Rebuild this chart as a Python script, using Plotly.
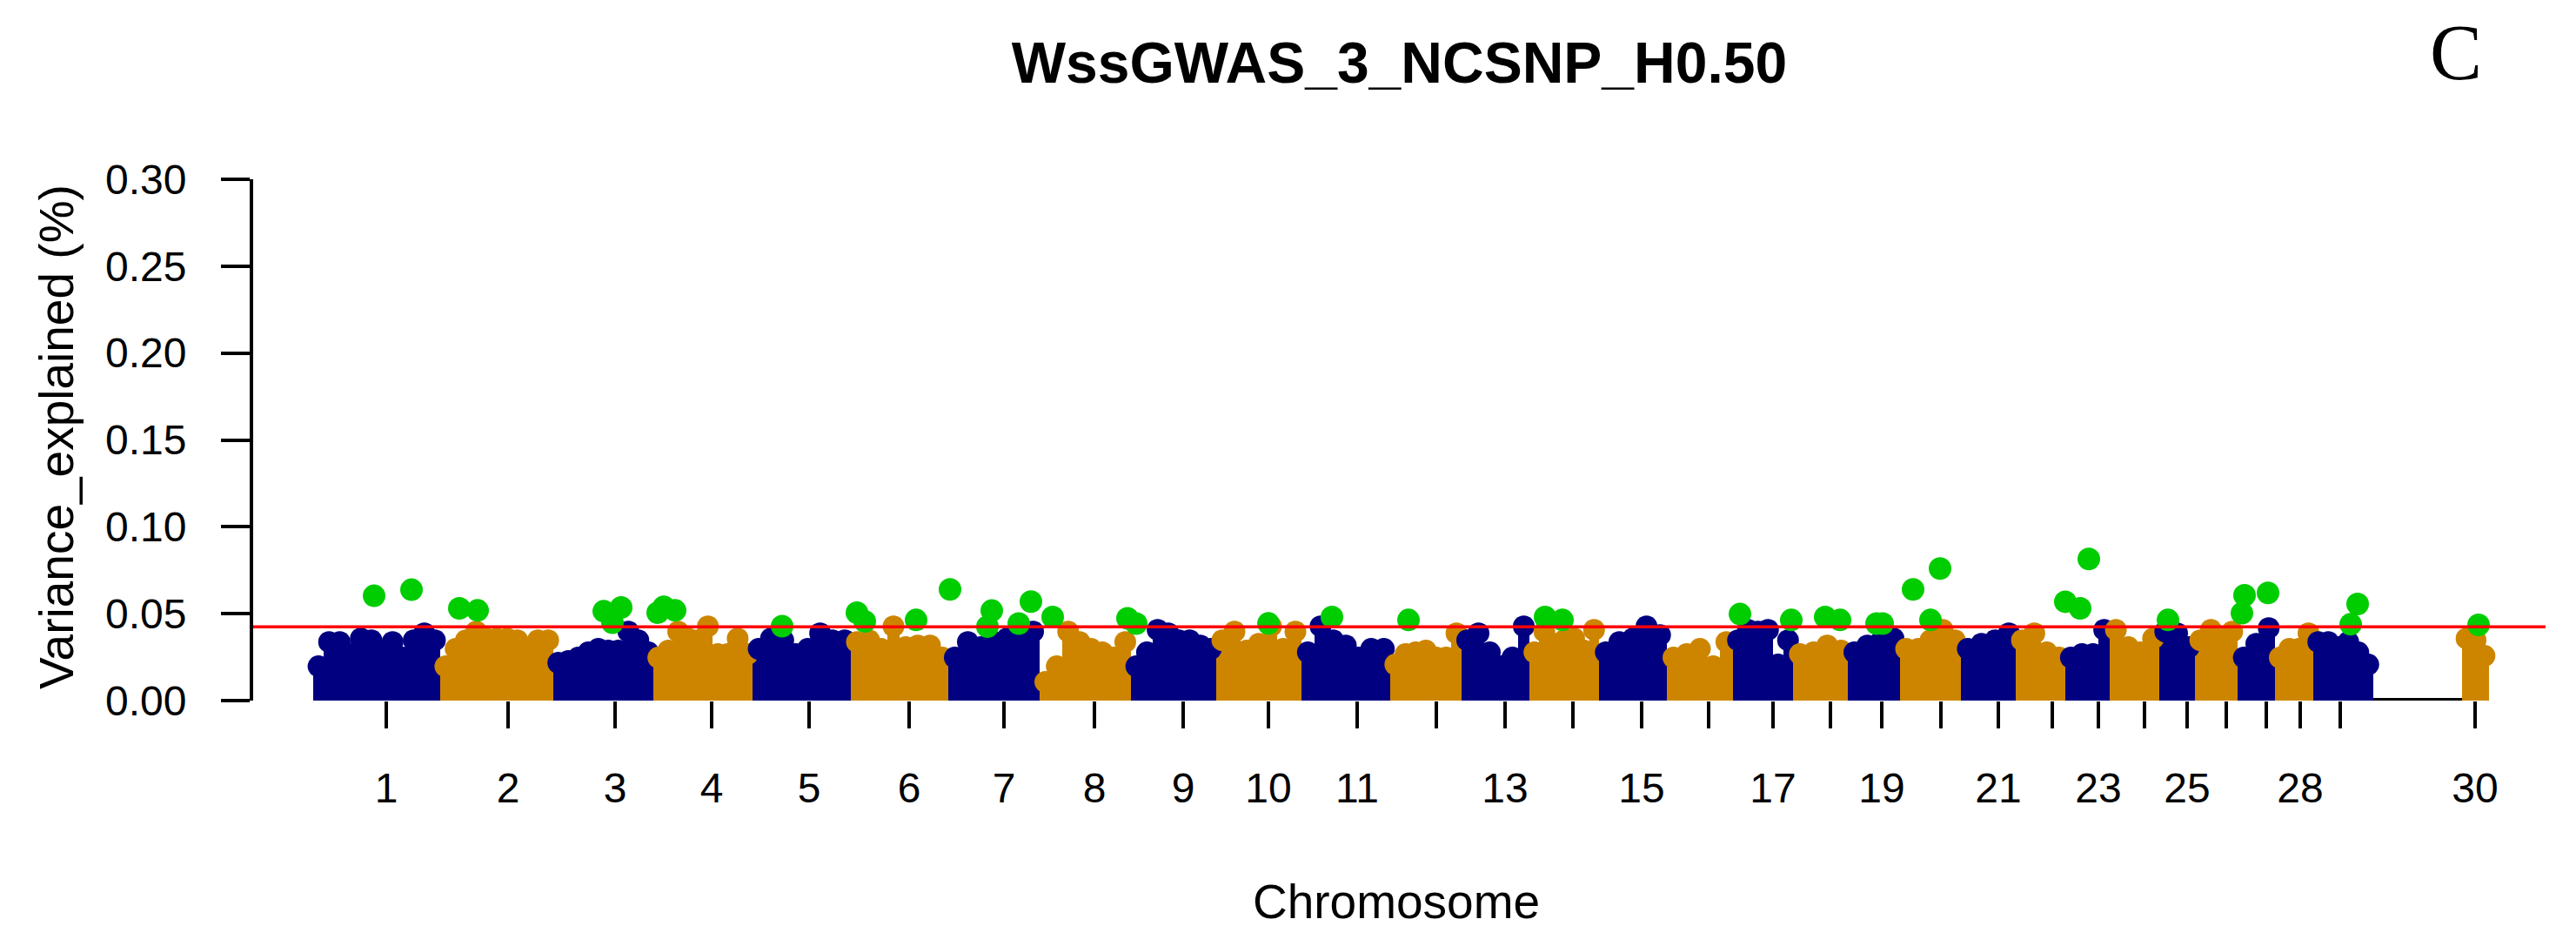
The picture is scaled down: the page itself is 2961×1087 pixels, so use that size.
import plotly.graph_objects as go

# ---------------- data ----------------
chrom_names = [str(i) for i in range(1, 31)]
# approximate chromosome lengths (Mb-like units, as drawn)
chrom_len = [146, 130, 115, 114, 113, 112, 105, 105, 98, 98, 102, 82, 78, 80, 78,
             76, 69, 63, 60, 70, 63, 57, 51, 57, 41, 49, 43, 44, 69, 31]
gap_before_30 = 102          # empty stretch (flat zero line) before chromosome 30

# upper envelope of the dense SNP cloud, evenly spaced along each chromosome
env_1 = [0.026, 0.040, 0.040, 0.033, 0.042, 0.041, 0.034, 0.040, 0.031, 0.041, 0.045, 0.041]
env_2 = [0.026, 0.036, 0.041, 0.046, 0.042, 0.042, 0.042, 0.041, 0.033, 0.041, 0.041]
env_3 = [0.028, 0.029, 0.031, 0.034, 0.036, 0.035, 0.035, 0.046, 0.041, 0.034]
env_4 = [0.031, 0.035, 0.046, 0.042, 0.041, 0.049, 0.033, 0.033, 0.042, 0.033]
env_5 = [0.036, 0.042, 0.041, 0.033, 0.036, 0.045, 0.041, 0.041]
env_6 = [0.040, 0.041, 0.036, 0.049, 0.037, 0.038, 0.038, 0.031]
env_7 = [0.031, 0.040, 0.037, 0.040, 0.042, 0.047, 0.046]
env_8 = [0.017, 0.026, 0.046, 0.040, 0.036, 0.034, 0.031, 0.040]
env_9 = [0.026, 0.034, 0.047, 0.045, 0.041, 0.041, 0.038, 0.036]
env_10 = [0.041, 0.046, 0.035, 0.039, 0.049, 0.036, 0.046]
env_11 = [0.034, 0.049, 0.041, 0.038, 0.031, 0.036, 0.036]
env_12 = [0.027, 0.033, 0.034, 0.035, 0.031, 0.031, 0.045]
env_13 = [0.041, 0.045, 0.034, 0.026, 0.031, 0.049]
env_14 = [0.034, 0.046, 0.039, 0.041, 0.042, 0.035, 0.047]
env_15 = [0.034, 0.040, 0.042, 0.049, 0.044]
env_16 = [0.031, 0.033, 0.036, 0.026, 0.040]
env_17 = [0.041, 0.047, 0.046, 0.047, 0.027, 0.041]
env_18 = [0.033, 0.034, 0.038, 0.035]
env_19 = [0.034, 0.038, 0.040, 0.042]
env_20 = [0.036, 0.036, 0.041, 0.047, 0.041]
env_21 = [0.036, 0.039, 0.041, 0.045]
env_22 = [0.041, 0.045, 0.034, 0.031]
env_23 = [0.031, 0.033, 0.033, 0.047]
env_24 = [0.047, 0.037, 0.034, 0.042]
env_25 = [0.046, 0.045, 0.037]
env_26 = [0.041, 0.047, 0.041, 0.046]
env_27 = [0.031, 0.039, 0.048]
env_28 = [0.031, 0.036, 0.036, 0.045]
env_29 = [0.040, 0.040, 0.037, 0.040, 0.034, 0.027]
env_30 = [0.042, 0.041, 0.032]
envelopes = [env_1, env_2, env_3, env_4, env_5, env_6, env_7, env_8, env_9, env_10,
             env_11, env_12, env_13, env_14, env_15, env_16, env_17, env_18, env_19, env_20,
             env_21, env_22, env_23, env_24, env_25, env_26, env_27, env_28, env_29, env_30]

# SNPs above the threshold (highlighted)
top_chr = [1, 1, 2, 2, 3, 3, 3, 4, 4, 4, 5, 6, 6, 6, 7, 7, 7, 7, 7, 8, 8, 9, 10, 11, 12,
           14, 14, 17, 17, 18, 18, 19, 19, 20, 20, 20, 23, 23, 23, 25, 27, 27, 27, 29, 29, 30]
top_pos = [70, 113, 22, 43, 58, 68, 78, 5, 12, 25, 34, 7, 16, 75, 2, 45, 50, 81, 95, 15, 101,
           6, 60, 35, 21, 18, 38, 8, 67, 37, 54, 33, 40, 15, 35, 46, 0, 17, 27, 10, 5, 8, 35,
           43, 51, 19]
top_val = [0.0603, 0.0638, 0.0531, 0.0519, 0.0514, 0.0448, 0.0536, 0.0506, 0.0540, 0.0519,
           0.0428, 0.0506, 0.0456, 0.0464, 0.0640, 0.0426, 0.0518, 0.0443, 0.0570, 0.0481,
           0.0473, 0.0443, 0.0444, 0.0481, 0.0464, 0.0481, 0.0464, 0.0498, 0.0464, 0.0481,
           0.0464, 0.0443, 0.0443, 0.0640, 0.0464, 0.0760, 0.0569, 0.0531, 0.0815, 0.0464,
           0.0503, 0.0606, 0.0620, 0.0439, 0.0556, 0.0436]

threshold = 0.0425

# tick positions (cumulative genome position of each chromosome label)
tick_pos = [84, 224, 347, 458, 570, 685, 794, 898, 1000, 1098, 1200, 1291, 1370, 1448, 1527,
            1604, 1678, 1744, 1803, 1871, 1937, 1999, 2052, 2105, 2154, 2199, 2245, 2284,
            2330, 2485]
tick_text = ["1", "2", "3", "4", "5", "6", "7", "8", "9", "10", "11", "", "13", "", "15",
             "", "17", "", "19", "", "21", "", "23", "", "25", "", "", "28", "", "30"]

y_ticks = [0.00, 0.05, 0.10, 0.15, 0.20, 0.25, 0.30]

# ---------------- build ----------------
NAVY = "#000080"
ORANGE = "#CD8500"
GREEN = "#00CD00"

W, H = 2961, 1087
L_M, R_M, T_M, B_M = 283, 43, 198, 290
PLOT_H = H - T_M - B_M
Y_MAX = 0.30
DOT = 25                                   # point diameter in px
dot_r = (DOT / 2) / PLOT_H * Y_MAX         # point radius in data units

starts = []
s = 0
for i, L in enumerate(chrom_len):
    if chrom_names[i] == "30":
        gap_start = s
        s += gap_before_30
    starts.append(s)
    s += L
gap_end = starts[-1]

bx, by, bw, bc = [], [], [], []
for i, env in enumerate(envelopes):
    n = len(env)
    w = chrom_len[i] / n
    col = NAVY if i % 2 == 0 else ORANGE
    for j, v in enumerate(env):
        bx.append(starts[i] + (j + 0.5) * w)
        by.append(v)
        bw.append(w)
        bc.append(col)

# rounded tops of the point cloud: a point whose top edge touches the envelope
cap_y = [v - dot_r for v in by]

gx = [starts[c - 1] + p for c, p in zip(top_chr, top_pos)]

fig = go.Figure()
fig.add_trace(go.Bar(x=bx, y=[v - dot_r for v in by], width=bw,
                     marker=dict(color=bc, line=dict(width=0)),
                     hoverinfo="skip", showlegend=False))
fig.add_trace(go.Scatter(x=bx, y=cap_y, mode="markers",
                         marker=dict(color=bc, size=DOT, line=dict(width=0)),
                         hoverinfo="skip", showlegend=False))
fig.add_trace(go.Scatter(x=[gap_start, gap_end], y=[0, 0], mode="lines",
                         line=dict(color="black", width=6), hoverinfo="skip", showlegend=False))
fig.add_trace(go.Scatter(x=gx, y=top_val, mode="markers",
                         marker=dict(color=GREEN, size=DOT + 1, line=dict(width=0)),
                         cliponaxis=False, showlegend=False))

fig.add_shape(type="line", xref="paper", x0=0, x1=1, yref="y", y0=threshold, y1=threshold,
              line=dict(color="#FF0000", width=3.5))

fig.update_layout(
    width=W, height=H,
    margin=dict(l=L_M, r=R_M, t=T_M, b=B_M, pad=0),
    paper_bgcolor="white", plot_bgcolor="white",
    bargap=0, barmode="overlay",
    font=dict(family="Liberation Sans, Arial, sans-serif", color="black"),
    title=dict(text="<b>WssGWAS_3_NCSNP_H0.50</b>", x=0.5, xref="paper",
               y=1 - 64 / H, yref="container", yanchor="middle",
               font=dict(size=66, family="Liberation Sans, Arial, sans-serif", color="black")),
    xaxis=dict(range=[-69, 2566], tickmode="array", tickvals=tick_pos, ticktext=tick_text,
               ticks="outside", ticklen=31, tickwidth=4, tickcolor="black",
               showline=False, showgrid=False, zeroline=False,
               tickfont=dict(size=48), ticklabelstandoff=27, fixedrange=True),
    yaxis=dict(range=[0, Y_MAX], tickmode="array", tickvals=y_ticks,
               ticktext=[f"{v:.2f}" for v in y_ticks],
               ticks="outside", ticklen=33, tickwidth=4, tickcolor="black",
               showline=True, linecolor="black", linewidth=4,
               showgrid=False, zeroline=False, tickfont=dict(size=48),
               ticklabelstandoff=30, fixedrange=True),
    annotations=[
        dict(text="Variance_explained (%)", textangle=-90, showarrow=False,
             xref="paper", x=(57 - L_M) / (W - L_M - R_M), xanchor="center",
             yref="paper", y=(797 - 494) / PLOT_H, yanchor="middle",
             font=dict(size=55)),
        dict(text="Chromosome", showarrow=False,
             xref="paper", x=(1597 - L_M) / (W - L_M - R_M), xanchor="center",
             yref="paper", y=-(1028 - 797) / PLOT_H, yanchor="middle",
             font=dict(size=55)),
        dict(text="C", showarrow=False, xref="paper", x=(2815 - L_M) / (W - L_M - R_M),
             xanchor="center", yref="paper", y=(797 - 52) / PLOT_H, yanchor="middle",
             font=dict(size=90, family="Liberation Serif, Times New Roman, serif")),
    ],
)

fig.write_html("out.html", config={"displayModeBar": False})
